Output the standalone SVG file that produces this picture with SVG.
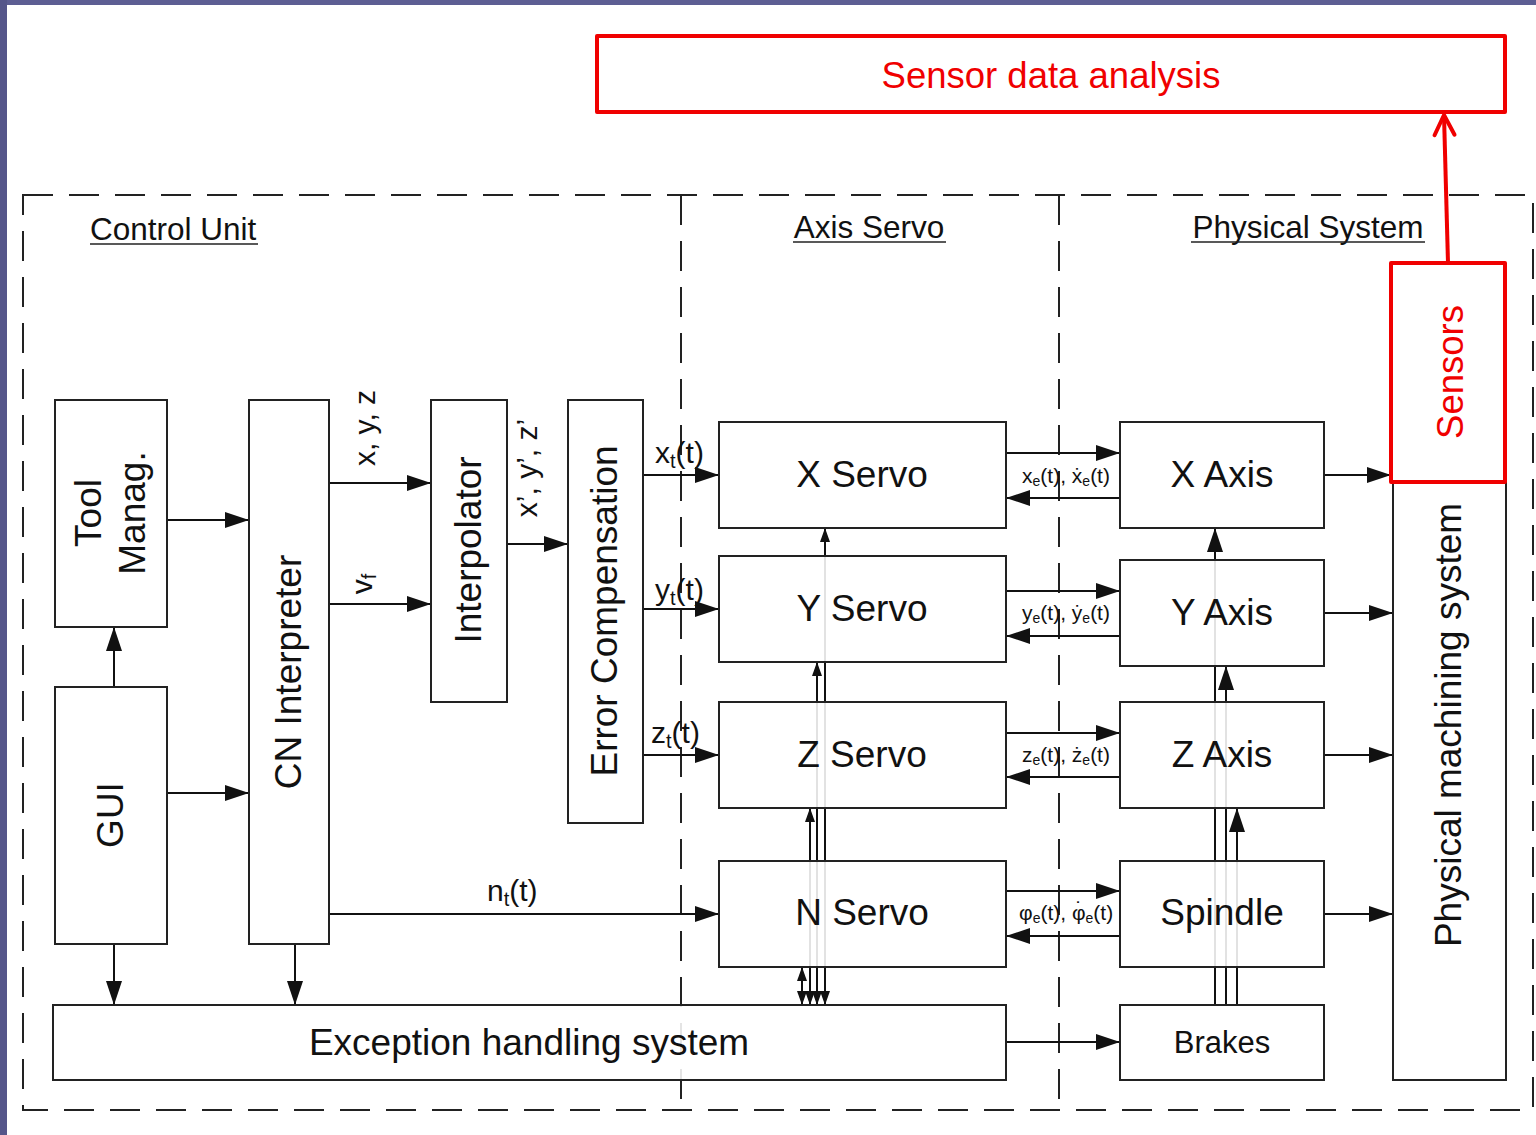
<svg xmlns="http://www.w3.org/2000/svg" width="1536" height="1135" viewBox="0 0 1536 1135">
<defs>
<style>
.t{font-family:"Liberation Sans",Arial,sans-serif;fill:#111}
.b{font-size:37px}
.l{font-size:30px}
.s{font-size:21px}
.h{font-size:31.5px}
.r{font-family:"Liberation Sans",Arial,sans-serif;fill:#f00000;font-size:36.5px}
.box{fill:#fff;fill-opacity:0.88;stroke:#222;stroke-width:2}
.rbox{fill:#fff;stroke:#f00000;stroke-width:4;stroke-linejoin:round}
.c{fill:none;stroke:#111;stroke-width:2}
.dash{fill:none;stroke:#222;stroke-width:2;stroke-dasharray:30 16}
.ul{stroke:#222;stroke-width:1.6}
</style>
<marker id="ah" markerUnits="userSpaceOnUse" markerWidth="24" markerHeight="16" refX="24" refY="8" orient="auto"><path d="M0,0L24,8L0,16z" fill="#111"/></marker>
<marker id="as" markerUnits="userSpaceOnUse" markerWidth="14" markerHeight="10" refX="14" refY="5" orient="auto-start-reverse"><path d="M0,0L14,5L0,10z" fill="#111"/></marker>
<marker id="ar" markerUnits="userSpaceOnUse" markerWidth="26" markerHeight="26" refX="22" refY="13" orient="auto" overflow="visible"><path d="M2,3L22,13L2,23" fill="none" stroke="#f00000" stroke-width="4" stroke-linecap="round" stroke-linejoin="round"/></marker>
</defs>
<rect x="0" y="0" width="1536" height="1135" fill="#fff"/>
<rect x="0" y="0" width="1536" height="5" fill="#5d5e93"/>
<rect x="0" y="0" width="7" height="1135" fill="#55568a"/>

<g id="frames">
<rect class="dash" x="23" y="195" width="1510" height="915"/>
<line class="dash" x1="681" y1="195" x2="681" y2="1110"/>
<line class="dash" x1="1059" y1="195" x2="1059" y2="1110"/>
<text class="t h" x="90" y="240">Control Unit</text>
<line class="ul" x1="90" y1="244" x2="258" y2="244"/>
<text class="t h" x="869" y="238" text-anchor="middle">Axis Servo</text>
<line class="ul" x1="793" y1="242" x2="946" y2="242"/>
<text class="t h" x="1308" y="238" text-anchor="middle">Physical System</text>
<line class="ul" x1="1191" y1="242" x2="1425" y2="242"/>
</g>

<g id="connectors">
<path class="c" d="M167,520H249" marker-end="url(#ah)"/>
<path class="c" d="M114,687V627" marker-end="url(#ah)"/>
<path class="c" d="M167,793H249" marker-end="url(#ah)"/>
<path class="c" d="M114,944V1005" marker-end="url(#ah)"/>
<path class="c" d="M295,944V1005" marker-end="url(#ah)"/>
<path class="c" d="M329,483H431" marker-end="url(#ah)"/>
<path class="c" d="M329,604H431" marker-end="url(#ah)"/>
<path class="c" d="M507,544H568" marker-end="url(#ah)"/>
<path class="c" d="M643,475H719" marker-end="url(#ah)"/>
<path class="c" d="M643,609H719" marker-end="url(#ah)"/>
<path class="c" d="M643,755H719" marker-end="url(#ah)"/>
<path class="c" d="M329,914H719" marker-end="url(#ah)"/>
<path class="c" d="M1006,453H1120" marker-end="url(#ah)"/>
<path class="c" d="M1120,498H1006" marker-end="url(#ah)"/>
<path class="c" d="M1006,591H1120" marker-end="url(#ah)"/>
<path class="c" d="M1120,636H1006" marker-end="url(#ah)"/>
<path class="c" d="M1006,733H1120" marker-end="url(#ah)"/>
<path class="c" d="M1120,777H1006" marker-end="url(#ah)"/>
<path class="c" d="M1006,891H1120" marker-end="url(#ah)"/>
<path class="c" d="M1120,936H1006" marker-end="url(#ah)"/>
<path class="c" d="M1006,1042H1120" marker-end="url(#ah)"/>
<path class="c" d="M1324,475H1391" marker-end="url(#ah)"/>
<path class="c" d="M1324,613H1393" marker-end="url(#ah)"/>
<path class="c" d="M1324,755H1393" marker-end="url(#ah)"/>
<path class="c" d="M1324,914H1393" marker-end="url(#ah)"/>
<path class="c" d="M802,1005V967" marker-start="url(#as)" marker-end="url(#as)"/>
<path class="c" d="M810,1005V808" marker-start="url(#as)" marker-end="url(#as)"/>
<path class="c" d="M817,1005V662" marker-start="url(#as)" marker-end="url(#as)"/>
<path class="c" d="M825,1005V528" marker-start="url(#as)" marker-end="url(#as)"/>
<path class="c" d="M1215,1005V528" marker-end="url(#ah)"/>
<path class="c" d="M1226,1005V666" marker-end="url(#ah)"/>
<path class="c" d="M1237,1005V808" marker-end="url(#ah)"/>
<path d="M1448,263L1444,115" fill="none" stroke="#f00000" stroke-width="4" marker-end="url(#ar)"/>
</g>

<g id="labels">
<text class="t l" transform="translate(375,428) rotate(-90)" text-anchor="middle">x, y, z</text>
<text class="t l" transform="translate(372,584) rotate(-90)" text-anchor="middle">v<tspan font-size="20" dy="4">f</tspan></text>
<text class="t l" transform="translate(537,468) rotate(-90)" text-anchor="middle">x’, y’, z’</text>
<text class="t l" x="655" y="463">x<tspan font-size="20" dy="5">t</tspan><tspan dy="-5">(t)</tspan></text>
<text class="t l" x="655" y="600">y<tspan font-size="20" dy="5">t</tspan><tspan dy="-5">(t)</tspan></text>
<text class="t l" x="651" y="743">z<tspan font-size="20" dy="5">t</tspan><tspan dy="-5">(t)</tspan></text>
<text class="t l" x="487" y="901">n<tspan font-size="20" dy="5">t</tspan><tspan dy="-5">(t)</tspan></text>
<text class="t s" x="1066" y="483" text-anchor="middle">x<tspan font-size="14" dy="3">e</tspan><tspan dy="-3">(t), ẋ</tspan><tspan font-size="14" dy="3">e</tspan><tspan dy="-3">(t)</tspan></text>
<text class="t s" x="1066" y="620" text-anchor="middle">y<tspan font-size="14" dy="3">e</tspan><tspan dy="-3">(t), ẏ</tspan><tspan font-size="14" dy="3">e</tspan><tspan dy="-3">(t)</tspan></text>
<text class="t s" x="1066" y="762" text-anchor="middle">z<tspan font-size="14" dy="3">e</tspan><tspan dy="-3">(t), ż</tspan><tspan font-size="14" dy="3">e</tspan><tspan dy="-3">(t)</tspan></text>
<text class="t s" x="1019" y="920">φ<tspan font-size="14" dy="3">e</tspan><tspan dy="-3">(t), φ</tspan><tspan dx="-10" dy="-4">˙</tspan><tspan font-size="14" dx="3" dy="7">e</tspan><tspan dy="-3">(t)</tspan></text>
</g>

<g id="tool-manag"><rect class="box" x="55" y="400" width="112" height="227"/>
<text class="t b" transform="translate(101,513) rotate(-90)" text-anchor="middle">Tool</text>
<text class="t b" transform="translate(145,513) rotate(-90)" text-anchor="middle">Manag.</text></g>
<g id="gui"><rect class="box" x="55" y="687" width="112" height="257"/>
<text class="t b" transform="translate(123,815) rotate(-90)" text-anchor="middle">GUI</text></g>
<g id="cn-interpreter"><rect class="box" x="249" y="400" width="80" height="544"/>
<text class="t b" transform="translate(301,672) rotate(-90)" text-anchor="middle">CN Interpreter</text></g>
<g id="interpolator"><rect class="box" x="431" y="400" width="76" height="302"/>
<text class="t b" transform="translate(481,550) rotate(-90)" text-anchor="middle">Interpolator</text></g>
<g id="error-compensation"><rect class="box" x="568" y="400" width="75" height="423"/>
<text class="t b" transform="translate(617,611) rotate(-90)" text-anchor="middle">Error Compensation</text></g>
<g id="exception"><rect class="box" x="53" y="1005" width="953" height="75"/>
<text class="t b" x="529" y="1055" text-anchor="middle">Exception handling system</text></g>

<g id="x-servo"><rect class="box" x="719" y="422" width="287" height="106"/>
<text class="t b" x="862" y="487" text-anchor="middle">X Servo</text></g>
<g id="y-servo"><rect class="box" x="719" y="556" width="287" height="106"/>
<text class="t b" x="862" y="621" text-anchor="middle">Y Servo</text></g>
<g id="z-servo"><rect class="box" x="719" y="702" width="287" height="106"/>
<text class="t b" x="862" y="767" text-anchor="middle">Z Servo</text></g>
<g id="n-servo"><rect class="box" x="719" y="861" width="287" height="106"/>
<text class="t b" x="862" y="925" text-anchor="middle">N Servo</text></g>

<g id="x-axis"><rect class="box" x="1120" y="422" width="204" height="106"/>
<text class="t b" x="1222" y="487" text-anchor="middle">X Axis</text></g>
<g id="y-axis"><rect class="box" x="1120" y="560" width="204" height="106"/>
<text class="t b" x="1222" y="625" text-anchor="middle">Y Axis</text></g>
<g id="z-axis"><rect class="box" x="1120" y="702" width="204" height="106"/>
<text class="t b" x="1222" y="767" text-anchor="middle">Z Axis</text></g>
<g id="spindle"><rect class="box" x="1120" y="861" width="204" height="106"/>
<text class="t b" x="1222" y="925" text-anchor="middle">Spindle</text></g>
<g id="brakes"><rect class="box" x="1120" y="1005" width="204" height="75"/>
<text class="t" font-size="31" x="1222" y="1053" text-anchor="middle">Brakes</text></g>

<g id="physical-machining-system"><rect class="box" x="1393" y="483" width="113" height="597"/>
<text class="t b" transform="translate(1461,725) rotate(-90)" text-anchor="middle">Physical machining system</text></g>
<g id="sensors"><rect class="rbox" x="1391" y="263" width="114" height="219"/>
<text class="r" transform="translate(1463,372) rotate(-90)" text-anchor="middle">Sensors</text></g>
<g id="sensor-data-analysis"><rect class="rbox" x="597" y="36" width="908" height="76"/>
<text class="r" x="1051" y="88" text-anchor="middle">Sensor data analysis</text></g>
</svg>
